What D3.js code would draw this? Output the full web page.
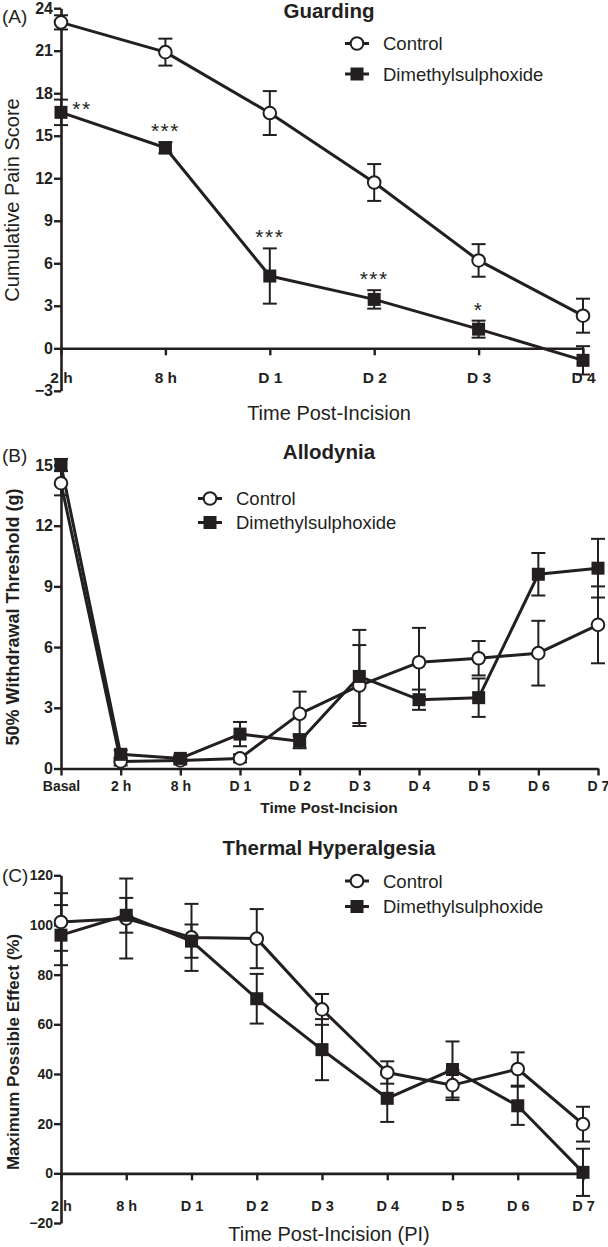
<!DOCTYPE html>
<html><head><meta charset="utf-8">
<script src="https://cdn.jsdelivr.net/npm/d3@7"></script>
<style>
html,body{margin:0;padding:0;background:#fff;}
svg{display:block;}
</style></head>
<body>
<script>
// ---------- DATA ----------
const seriesNames = ["Control", "Dimethylsulphoxide"];

// (A) Guarding
const guardCats = ["2 h", "8 h", "D 1", "D 2", "D 3", "D 4"];
const guardControl = [23.0, 20.9, 16.6, 11.7, 6.2, 2.3];
const guardControlErr = [0.5, 0.95, 1.55, 1.3, 1.15, 1.2];
const guardDmso = [16.65, 14.15, 5.1, 3.45, 1.35, -0.85];
const guardDmsoErr = [0.9, 0.4, 1.95, 0.65, 0.6, 1.0];
const guardStars = ["**", "***", "***", "***", "*", ""];
const guardTicks = [-3, 0, 3, 6, 9, 12, 15, 18, 21, 24];

// (B) Allodynia
const alloCats = ["Basal", "2 h", "8 h", "D 1", "D 2", "D 3", "D 4", "D 5", "D 6", "D 7"];
const alloControl = [14.1, 0.35, 0.4, 0.5, 2.7, 4.1, 5.25, 5.45, 5.7, 7.1];
const alloControlErr = [0.6, 0.2, 0.2, 0.2, 1.1, 2.0, 1.7, 0.85, 1.6, 1.9];
const alloDmso = [15.0, 0.7, 0.5, 1.7, 1.35, 4.55, 3.4, 3.5, 9.6, 9.9];
const alloDmsoErr = [0.3, 0.2, 0.15, 0.6, 0.35, 2.3, 0.5, 0.95, 1.05, 1.45];
const alloTicks = [0, 3, 6, 9, 12, 15];

// (C) Thermal Hyperalgesia
const thermCats = ["2 h", "8 h", "D 1", "D 2", "D 3", "D 4", "D 5", "D 6", "D 7"];
const thermControl = [101.2, 102.6, 95.0, 94.5, 66.0, 40.6, 35.5, 42.0, 19.8];
const thermControlErr = [11.6, 16.1, 13.5, 11.9, 6.2, 4.5, 6.0, 6.7, 7.0];
const thermDmso = [95.9, 103.9, 93.5, 70.3, 49.8, 30.2, 41.8, 27.2, 0.4];
const thermDmsoErr = [12.1, 7.0, 6.7, 10.0, 12.3, 9.5, 11.3, 7.7, 9.5];
const thermTicks = [-20, 0, 20, 40, 60, 80, 100, 120];

// ---------- DRAWING ----------
const INK = "#231f20";
const FONT = "'Liberation Sans', Arial, Helvetica, sans-serif";
const svg = d3.select("body").append("svg").attr("width", 608).attr("height", 1247);

function drawPanel(p) {
  const g = svg.append("g");
  const x = d3.scalePoint().domain(p.cats).range(p.xRange);
  const y = d3.scaleLinear().domain(p.yDomain).range(p.yRange);

  // y axis
  const ya = g.append("g").attr("transform", `translate(${p.xRange[0]},0)`)
    .call(d3.axisLeft(y).tickValues(p.yTicks).tickSize(7).tickSizeOuter(0).tickPadding(1).tickFormat(d3.format("d")));
  ya.select(".domain").attr("stroke", INK).attr("stroke-width", 2.6);
  ya.selectAll(".tick line").attr("stroke", INK).attr("stroke-width", 2.4);
  ya.selectAll(".tick text").attr("fill", INK)
    .style("font-family", FONT).style("font-weight", "bold").style("font-size", p.yTickFs + "px");

  // x axis at y = 0
  const xa = g.append("g").attr("transform", `translate(0,${y(0)})`)
    .call(d3.axisBottom(x).tickSize(7).tickSizeOuter(0));
  xa.select(".domain").attr("stroke", INK).attr("stroke-width", 2.6);
  xa.selectAll(".tick line").attr("stroke", INK).attr("stroke-width", 2.4);
  xa.selectAll(".tick text").attr("fill", INK).attr("y", p.xTickBase).attr("dy", 0)
    .style("font-family", FONT).style("font-weight", "bold").style("font-size", p.xTickFs + "px");

  const series = [
    {vals: p.control, errs: p.controlErr, type: "circle"},
    {vals: p.dmso, errs: p.dmsoErr, type: "square"}
  ];
  const line = d3.line().x(d => x(d.c)).y(d => y(d.v));

  series.forEach(s => {
    const pts = p.cats.map((c, i) => ({c, v: s.vals[i], e: s.errs[i]}));
    const eg = g.append("g");
    pts.forEach(d => {
      const cx = x(d.c);
      eg.append("line").attr("x1", cx).attr("x2", cx).attr("y1", y(d.v - d.e)).attr("y2", y(d.v + d.e))
        .attr("stroke", INK).attr("stroke-width", 2);
      [d.v - d.e, d.v + d.e].forEach(v => {
        eg.append("line").attr("x1", cx - 7).attr("x2", cx + 7).attr("y1", y(v)).attr("y2", y(v))
          .attr("stroke", INK).attr("stroke-width", 2);
      });
    });
  });
  series.forEach(s => {
    const pts = p.cats.map((c, i) => ({c, v: s.vals[i]}));
    g.append("path").datum(pts).attr("d", line).attr("fill", "none")
      .attr("stroke", INK).attr("stroke-width", 3).attr("stroke-linejoin", "round");
  });
  series.forEach(s => {
    const pts = p.cats.map((c, i) => ({c, v: s.vals[i]}));
    if (s.type === "circle") {
      g.selectAll(null).data(pts).enter().append("circle")
        .attr("cx", d => x(d.c)).attr("cy", d => y(d.v)).attr("r", 6.3)
        .attr("fill", "#fff").attr("stroke", INK).attr("stroke-width", 2);
    } else {
      g.selectAll(null).data(pts).enter().append("rect")
        .attr("x", d => x(d.c) - 6.5).attr("y", d => y(d.v) - 6.5).attr("width", 13).attr("height", 13)
        .attr("fill", INK);
    }
  });

  // significance stars
  if (p.stars) {
    p.stars.forEach((st, i) => {
      if (!st) return;
      const c = p.cats[i];
      const first = i === 0;
      g.append("text").text(st)
        .attr("x", first ? x(c) + 21 : x(c))
        .attr("y", first ? y(p.dmso[i]) + 4 : y(p.dmso[i] + p.dmsoErr[i]) - 4)
        .attr("text-anchor", "middle")
        .attr("fill", INK).style("font-family", FONT).style("font-size", "21px").style("letter-spacing", "1.5px");
    });
  }

  // title
  g.append("text").text(p.title).attr("x", 329).attr("y", p.titleY).attr("text-anchor", "middle")
    .attr("fill", INK).style("font-family", FONT).style("font-weight", "bold").style("font-size", "20.5px");
  // panel letter
  g.append("text").text(p.letter).attr("x", 2).attr("y", p.letterY)
    .attr("fill", INK).style("font-family", FONT).style("font-size", "19px");
  // axis titles
  g.append("text").text(p.xTitle).attr("x", p.xTitleX).attr("y", p.xTitleY).attr("text-anchor", "middle")
    .attr("fill", INK).style("font-family", FONT).style("font-weight", p.xBold ? "bold" : "normal")
    .style("font-size", p.xTitleFs + "px");
  g.append("text").text(p.yTitle)
    .attr("transform", `translate(${p.yTitleX},${p.yTitleY}) rotate(-90)`).attr("text-anchor", "middle")
    .attr("fill", INK).style("font-family", FONT).style("font-weight", p.yBold ? "bold" : "normal")
    .style("font-size", p.yTitleFs + "px");

  // legend
  const lg = g.append("g");
  seriesNames.forEach((name, i) => {
    const ly = p.legendY[i];
    const lx = p.legendX;
    lg.append("line").attr("x1", lx - 12).attr("x2", lx + 12).attr("y1", ly).attr("y2", ly)
      .attr("stroke", INK).attr("stroke-width", 3);
    if (i === 0) {
      lg.append("circle").attr("cx", lx).attr("cy", ly).attr("r", 6.3)
        .attr("fill", "#fff").attr("stroke", INK).attr("stroke-width", 2);
    } else {
      lg.append("rect").attr("x", lx - 6.5).attr("y", ly - 6.5).attr("width", 13).attr("height", 13).attr("fill", INK);
    }
    lg.append("text").text(name).attr("x", lx + 26).attr("y", ly + 6.5)
      .attr("fill", INK).style("font-family", FONT).style("font-size", "18.5px");
  });
}

drawPanel({
  cats: guardCats, control: guardControl, controlErr: guardControlErr,
  dmso: guardDmso, dmsoErr: guardDmsoErr, stars: guardStars,
  yDomain: [-3, 24], yRange: [390.8, 8.2], xRange: [61, 583], yTicks: guardTicks,
  yTickFs: 16, xTickFs: 15.5, xTickBase: 35,
  title: "Guarding", titleY: 17.5, letter: "(A)", letterY: 23,
  xTitle: "Time Post-Incision", xTitleX: 329, xTitleY: 420, xTitleFs: 20,
  yTitle: "Cumulative Pain Score", yTitleX: 19, yTitleY: 200, yTitleFs: 20, xBold: false, yBold: false,
  legendX: 357, legendY: [43.5, 74]
});

drawPanel({
  cats: alloCats, control: alloControl, controlErr: alloControlErr,
  dmso: alloDmso, dmsoErr: alloDmsoErr,
  yDomain: [0, 15], yRange: [768.5, 465], xRange: [61, 598], yTicks: alloTicks,
  yTickFs: 16, xTickFs: 14, xTickBase: 22,
  title: "Allodynia", titleY: 459, letter: "(B)", letterY: 462,
  xTitle: "Time Post-Incision", xTitleX: 329, xTitleY: 813, xTitleFs: 15.5,
  yTitle: "50% Withdrawal Threshold (g)", yTitleX: 19, yTitleY: 617, yTitleFs: 18, xBold: true, yBold: true,
  legendX: 210, legendY: [498.5, 522.5]
});

drawPanel({
  cats: thermCats, control: thermControl, controlErr: thermControlErr,
  dmso: thermDmso, dmsoErr: thermDmsoErr,
  yDomain: [-20, 120], yRange: [1223, 875.3], xRange: [61, 583], yTicks: thermTicks,
  yTickFs: 14, xTickFs: 14.5, xTickBase: 38,
  title: "Thermal Hyperalgesia", titleY: 855, letter: "(C)", letterY: 882,
  xTitle: "Time Post-Incision (PI)", xTitleX: 329, xTitleY: 1241, xTitleFs: 20,
  yTitle: "Maximum Possible Effect (%)", yTitleX: 19, yTitleY: 1052, yTitleFs: 17, xBold: false, yBold: true,
  legendX: 357, legendY: [881, 906.5]
});
</script>
</body></html>
